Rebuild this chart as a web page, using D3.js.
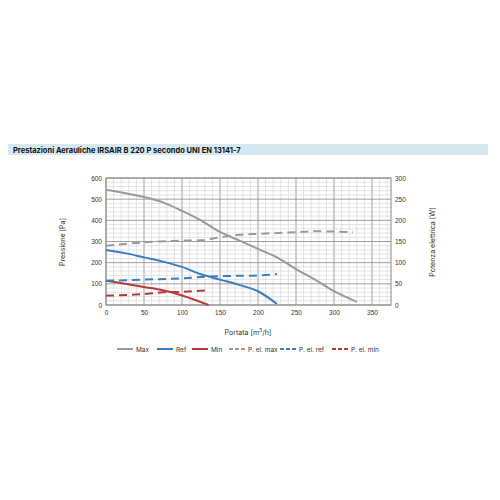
<!DOCTYPE html>
<html><head><meta charset="utf-8">
<script src="https://cdn.jsdelivr.net/npm/d3@7"></script>
<style>body{margin:0;background:#fff;font-family:Inter,"Noto Sans",sans-serif}</style>
</head><body><svg id="chart" width="500" height="500"></svg>
<script>
// values
var maxFlow = [0,50,75,100,125,150,175,200,225,250,275,300,330];
var maxPres = [545,510,485,445,400,345,305,265,225,170,120,65,15];
var refFlow = [0,25,50,75,100,125,150,175,200,225];
var refPres = [260,245,225,205,180,145,120,95,65,5];
var minFlow = [0,25,50,75,100,135];
var minPres = [115,100,85,70,45,0];
var pMaxFlow = [0,50,100,125,150,175,200,250,275,325];
var pMaxW = [140,148,152,153,160,166,168,172,174,172];
var pRefFlow = [0,50,100,125,150,200,225];
var pRefW = [57,60,63,66,68,70,73];
var pMinFlow = [0,50,75,100,135];
var pMinW = [22,26,30,31,35];
var xTicks = [0,50,100,150,200,250,300,350];
var yTicks = [0,100,200,300,400,500,600];
var y2Ticks = [0,50,100,150,200,250,300];

var svg = d3.select("#chart");
svg.append("rect").attr("x",8).attr("y",144).attr("width",480).attr("height",11).attr("fill","#d5e8f0");
svg.append("text").attr("x",13).attr("y",153).attr("font-size",7.5).attr("font-weight","bold").attr("fill","#111")
   .text("Prestazioni Aerauliche IRSAIR B 220 P secondo UNI EN 13141-7");

var L=106,R=391,T=178,B=305;
var x = d3.scaleLinear().domain([0,375]).range([L,R]);
var y = d3.scaleLinear().domain([0,600]).range([B,T]);
var y2 = d3.scaleLinear().domain([0,300]).range([B,T]);
var g = svg.append("g");

d3.range(0,376,10).forEach(function(v){
	g.append("line").attr("x1",x(v)).attr("x2",x(v)).attr("y1",T).attr("y2",B)
	 .attr("stroke", v%50==0 ? "#888" : "#c8c8c8").attr("stroke-width", v%50==0?0.8:0.5);
});
d3.range(0,601,20).forEach(function(v){
	g.append("line").attr("x1",L).attr("x2",R).attr("y1",y(v)).attr("y2",y(v))
	 .attr("stroke", v%100==0 ? "#888" : "#c8c8c8").attr("stroke-width", v%100==0?0.8:0.5);
});
g.append("rect").attr("x",L).attr("y",T).attr("width",R-L).attr("height",B-T).attr("fill","none").attr("stroke","#888");

function axisStyle(s){ s.select(".domain").remove(); s.selectAll(".tick line").remove();
	s.selectAll("text").attr("font-size",6.5).attr("fill","#333"); }
svg.append("g").attr("transform","translate(0,"+B+")").call(d3.axisBottom(x).tickValues(xTicks).tickSize(0).tickPadding(5)).call(axisStyle);
svg.append("g").attr("transform","translate("+L+",0)").call(d3.axisLeft(y).tickValues(yTicks).tickSize(0).tickPadding(4)).call(axisStyle);
svg.append("g").attr("transform","translate("+R+",0)").call(d3.axisRight(y2).tickValues(y2Ticks).tickSize(0).tickPadding(4)).call(axisStyle);

svg.append("text").attr("x",248).attr("y",335).attr("text-anchor","middle").attr("font-size",7).attr("fill","#333").html("Portata [m<tspan dy='-3' font-size='5'>3</tspan><tspan dy='3'>/h]</tspan>");
svg.append("text").attr("transform","translate(65,242) rotate(-90)").attr("text-anchor","middle").attr("font-size",7).attr("fill","#333").text("Pressione [Pa]");
svg.append("text").attr("transform","translate(435,242) rotate(-90)").attr("text-anchor","middle").attr("font-size",7).attr("fill","#333").text("Potenza elettrica [W]");

var GREY="#9a9a9a",BLUE="#3a7ec2",RED="#b73a3a";
var series = [
	{name:"Max",xs:maxFlow,ys:maxPres,sc:y,c:GREY,dash:null},
	{name:"Ref",xs:refFlow,ys:refPres,sc:y,c:BLUE,dash:null},
	{name:"Min",xs:minFlow,ys:minPres,sc:y,c:RED,dash:null},
	{name:"P. el. max",xs:pMaxFlow,ys:pMaxW,sc:y2,c:GREY,dash:"8,5"},
	{name:"P. el. ref",xs:pRefFlow,ys:pRefW,sc:y2,c:BLUE,dash:"8,5"},
	{name:"P. el. min",xs:pMinFlow,ys:pMinW,sc:y2,c:RED,dash:"8,5"}
];
series.forEach(function(s){
	var pts = s.xs.map(function(v,i){ return [v,s.ys[i]]; });
	var line = d3.line().x(function(d){return x(d[0]);}).y(function(d){return s.sc(d[1]);}).curve(d3.curveMonotoneX);
	svg.append("path").datum(pts).attr("d",line).attr("fill","none").attr("stroke",s.c)
	   .attr("stroke-width",2).attr("stroke-dasharray",s.dash);
});

var lx=[117,157,192,229,280,332];
series.forEach(function(s,i){
	svg.append("line").attr("x1",lx[i]).attr("x2",lx[i]+16).attr("y1",349).attr("y2",349)
	   .attr("stroke",s.c).attr("stroke-width",2).attr("stroke-dasharray",s.dash?"4,2":null);
	svg.append("text").attr("x",lx[i]+19).attr("y",351.5).attr("font-size",6.5).attr("fill","#333").text(s.name);
});
</script></body></html>
